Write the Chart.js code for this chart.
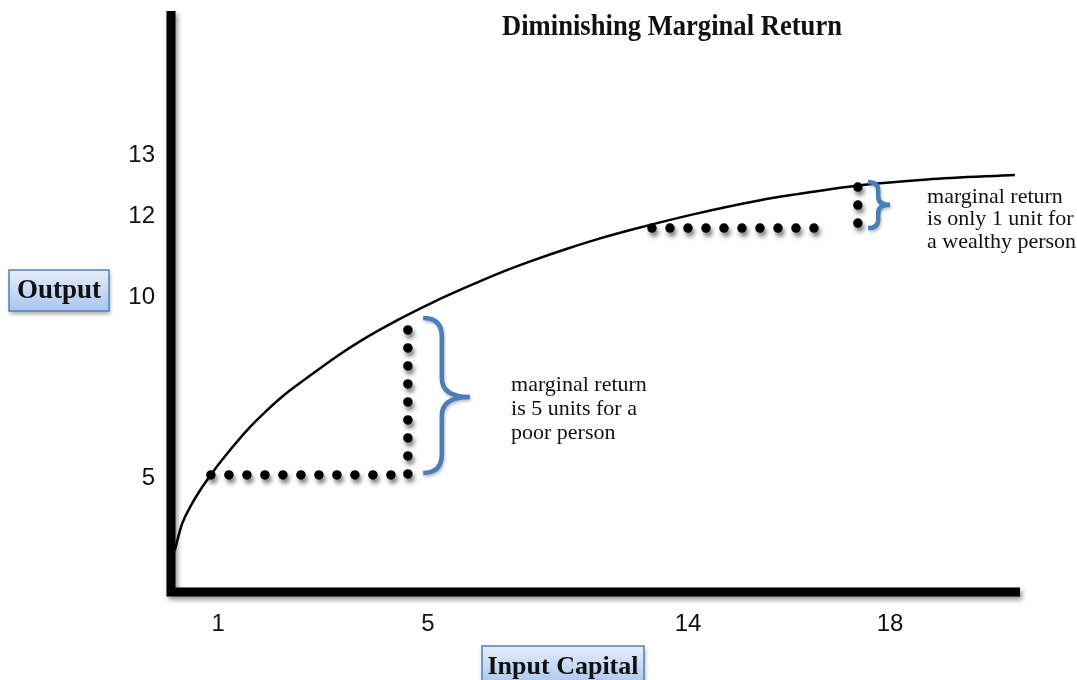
<!DOCTYPE html>
<html>
<head>
<meta charset="utf-8">
<title>Diminishing Marginal Return</title>
<script src="https://cdn.jsdelivr.net/npm/chart.js@4.4.1/dist/chart.umd.min.js"></script>
<style>
    html, body { margin: 0; padding: 0; background: #fff; }
    #wrap { position: relative; width: 1077px; height: 680px; }
</style>
</head>
<body>
<div id="wrap"><canvas id="chart" width="1077" height="680"></canvas></div>
<script>
// Curve, in diagram units (x: 0-20, y: 0-14)
const curveX = [0.09, 0.26, 0.49, 0.73, 0.97, 1.44, 1.81, 2.21, 2.61, 3.23, 3.98, 4.45, 5.39,
    6.17, 6.97, 7.75, 8.53, 9.33, 10.11, 10.89, 12.30, 13.88, 14.65, 16.23, 17.81, 19.88];
const curveY = [1.01, 1.64, 2.12, 2.52, 2.87, 3.48, 3.92, 4.33, 4.70, 5.18, 5.73, 6.04, 6.58,
    6.98, 7.35, 7.69, 7.99, 8.27, 8.52, 8.74, 9.10, 9.44, 9.57, 9.80, 9.94, 10.05];

// Dotted step lines (poor person / wealthy person)
const poorStepX = [0.94, 5.58, 5.58];
const poorStepY = [2.82, 2.82, 6.39];
const richRowX = [11.33, 15.57];
const richRowY = [8.77, 8.77];
const richColX = [16.18, 16.18];
const richColY = [8.89, 9.76];

// Tick labels and where they sit on the diagram
const xTickPos = [1.11, 6.05, 12.18, 16.94];
const xTickLabels = ["1", "5", "14", "18"];
const yTickPos = [2.75, 7.11, 9.04, 10.53];
const yTickLabels = ["5", "10", "12", "13"];

const titleText = "Diminishing Marginal Return";
const xAxisTitle = "Input Capital";
const yAxisTitle = "Output";
const poorNote = ["marginal return", "is 5 units for a", "poor person"];
const richNote = ["marginal return", "is only 1 unit for", "a wealthy person"];

// braces: end x, spine x, tip x, top y, middle y, bottom y (diagram units)
const braces = [
    { xe: 5.94, xs: 6.38, xt: 7.04, yt: 6.60, ym: 4.70, yb: 2.87 },
    { xe: 16.42, xs: 16.66, xt: 16.94, yt: 9.88, ym: 9.33, yb: 8.77 },
];

function pts(xs, ys) {
    return xs.map((x, i) => ({ x: x, y: ys[i] }));
}

const dotStyle = {
    pointRadius: 0,
    borderColor: "#000",
    borderWidth: 9.5,
    borderDash: [0.001, 17.999],
    borderCapStyle: "round",
    borderJoinStyle: "round",
    tension: 0,
    shadow: true,
};

const shadowPlugin = {
    id: "dotShadow",
    beforeDatasetDraw(chart, args) {
        if (!chart.data.datasets[args.index].shadow) return;
        const ctx = chart.ctx;
        ctx.save();
        ctx.shadowColor = "rgba(0,0,0,0.5)";
        ctx.shadowBlur = 4;
        ctx.shadowOffsetX = 2;
        ctx.shadowOffsetY = 4;
    },
    afterDatasetDraw(chart, args) {
        if (chart.data.datasets[args.index].shadow) chart.ctx.restore();
    },
};

function drawBrace(ctx, b, sx, sy) {
    const xe = sx(b.xe), xs = sx(b.xs), xt = sx(b.xt);
    const yt = sy(b.yt), ym = sy(b.ym), yb = sy(b.yb);
    const r = Math.min(xs - xe, (yb - yt) / 5.5);
    ctx.beginPath();
    ctx.moveTo(xe, yt);
    ctx.quadraticCurveTo(xs, yt, xs, yt + r);
    ctx.lineTo(xs, ym - r);
    ctx.quadraticCurveTo(xs, ym, xt, ym);
    ctx.quadraticCurveTo(xs, ym, xs, ym + r);
    ctx.lineTo(xs, yb - r);
    ctx.quadraticCurveTo(xs, yb, xe, yb);
    ctx.stroke();
}

function drawBox(ctx, x, y, w, h, text, size) {
    ctx.save();
    ctx.shadowColor = "rgba(0,0,0,0.35)";
    ctx.shadowBlur = 4;
    ctx.shadowOffsetX = 1;
    ctx.shadowOffsetY = 3;
    const g = ctx.createLinearGradient(0, y, 0, y + h);
    g.addColorStop(0, "#e6eefb");
    g.addColorStop(1, "#a9c5ee");
    ctx.fillStyle = g;
    ctx.fillRect(x, y, w, h);
    ctx.restore();
    ctx.strokeStyle = "#4f81bd";
    ctx.lineWidth = 1.5;
    ctx.strokeRect(x, y, w, h);
    ctx.fillStyle = "#111";
    ctx.font = "bold " + size + "px 'Liberation Serif', 'Times New Roman', serif";
    ctx.textAlign = "center";
    ctx.textBaseline = "middle";
    ctx.fillText(text, x + w / 2, y + h / 2 + 1);
}

const axesPlugin = {
    id: "axesLines",
    beforeDatasetsDraw(chart) {
        const ctx = chart.ctx;
        const a = chart.chartArea;
        ctx.save();
        ctx.shadowColor = "rgba(0,0,0,0.45)";
        ctx.shadowBlur = 5;
        ctx.shadowOffsetX = 2;
        ctx.shadowOffsetY = 3;
        ctx.strokeStyle = "#000";
        ctx.lineWidth = 9;
        ctx.lineCap = "butt";
        ctx.beginPath();
        ctx.moveTo(a.left, a.top);
        ctx.lineTo(a.left, a.bottom + 4.5);
        ctx.moveTo(a.left - 4.5, a.bottom);
        ctx.lineTo(a.right, a.bottom);
        ctx.stroke();
        ctx.restore();
    },
};

const notesPlugin = {
    id: "notes",
    afterDraw(chart) {
        const ctx = chart.ctx;
        const sx = (v) => chart.scales.x.getPixelForValue(v);
        const sy = (v) => chart.scales.y.getPixelForValue(v);

        // braces
        ctx.save();
        ctx.strokeStyle = "#4a7ebb";
        ctx.lineWidth = 4.5;
        ctx.lineCap = "butt";
        ctx.shadowColor = "rgba(0,0,0,0.25)";
        ctx.shadowBlur = 3;
        ctx.shadowOffsetX = 1;
        ctx.shadowOffsetY = 2;
        braces.forEach((b) => drawBrace(ctx, b, sx, sy));
        ctx.restore();

        // notes
        ctx.save();
        ctx.fillStyle = "#111";
        ctx.font = "22px 'Liberation Serif', 'Times New Roman', serif";
        ctx.textAlign = "left";
        ctx.textBaseline = "middle";
        poorNote.forEach((t, i) => ctx.fillText(t, sx(8.01), sy(4.99) + i * 24));
        richNote.forEach((t, i) => ctx.fillText(t, sx(17.81), sy(9.52) + i * 22.5));

        // title, a bit condensed like the original
        ctx.font = "bold 29px 'Liberation Serif', 'Times New Roman', serif";
        ctx.textAlign = "center";
        ctx.textBaseline = "alphabetic";
        const w = ctx.measureText(titleText).width;
        ctx.translate(672, 35);
        ctx.scale(Math.min(1, 340 / w), 1);
        ctx.fillText(titleText, 0, 0);
        ctx.restore();

        // axis title boxes
        drawBox(ctx, 9, 270, 100, 41, yAxisTitle, 27);
        drawBox(ctx, 482, 646, 162, 40, xAxisTitle, 26);
    },
};

new Chart(document.getElementById("chart"), {
    type: "line",
    data: {
        datasets: [
            {
                data: pts(curveX, curveY),
                pointRadius: 0,
                borderColor: "#000",
                borderWidth: 2.5,
                cubicInterpolationMode: "monotone",
            },
            Object.assign({ data: pts(poorStepX, poorStepY) }, dotStyle),
            Object.assign({ data: pts(richRowX, richRowY) }, dotStyle),
            Object.assign({ data: pts(richColX, richColY) }, dotStyle),
        ],
    },
    options: {
        responsive: false,
        animation: false,
        layout: { padding: { left: 111, right: 57, top: 11, bottom: 43 } },
        plugins: {
            legend: { display: false },
            tooltip: { enabled: false },
            title: { display: false },
        },
        scales: {
            x: {
                type: "linear",
                min: 0,
                max: 20,
                grid: { display: false, drawTicks: false },
                border: { display: false },
                afterFit: (s) => {
                    s.height = 45;
                    s.paddingLeft = 0;
                    s.paddingRight = 0;
                },
                afterBuildTicks: (s) => { s.ticks = xTickPos.map((v) => ({ value: v })); },
                ticks: {
                    autoSkip: false,
                    maxRotation: 0,
                    padding: 18,
                    color: "#111",
                    font: { family: "'Liberation Sans', Arial, sans-serif", size: 24 },
                    callback: (v, i) => xTickLabels[i],
                },
            },
            y: {
                type: "linear",
                min: 0,
                max: 14,
                grid: { display: false, drawTicks: false },
                border: { display: false },
                afterFit: (s) => {
                    s.width = 60;
                    s.paddingTop = 0;
                    s.paddingBottom = 0;
                },
                afterBuildTicks: (s) => { s.ticks = yTickPos.map((v) => ({ value: v })); },
                ticks: {
                    autoSkip: false,
                    padding: 16,
                    color: "#111",
                    font: { family: "'Liberation Sans', Arial, sans-serif", size: 24 },
                    callback: (v, i) => yTickLabels[i],
                },
            },
        },
    },
    plugins: [shadowPlugin, axesPlugin, notesPlugin],
});
</script>
</body>
</html>
